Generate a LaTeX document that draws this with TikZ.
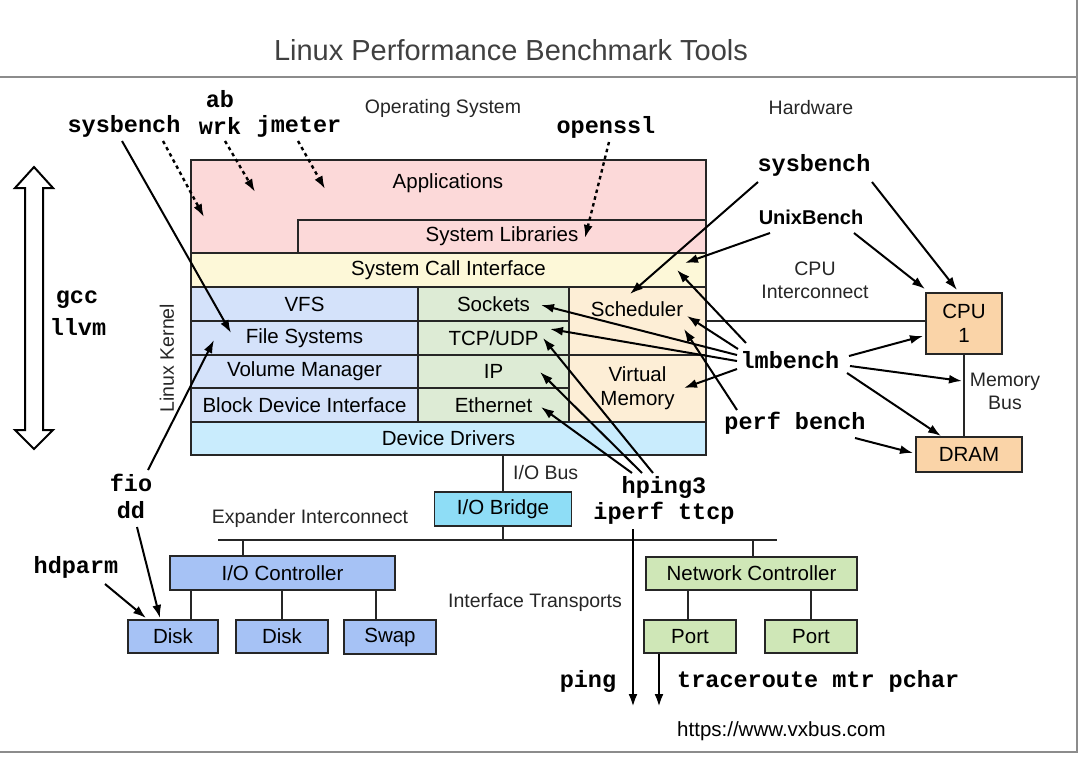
\documentclass[tikz,border=0pt]{standalone}
\usepackage{fontspec}
\setmainfont{Liberation Sans}
\newfontfamily\monofont{Liberation Mono}
\usetikzlibrary{arrows.meta}
\definecolor{cpink}{RGB}{252,217,217}
\definecolor{cyel}{RGB}{253,248,216}
\definecolor{cblue}{RGB}{212,226,250}
\definecolor{cgreen}{RGB}{221,235,213}
\definecolor{corange}{RGB}{253,238,214}
\definecolor{ccyan}{RGB}{201,236,253}
\definecolor{cbridge}{RGB}{142,221,246}
\definecolor{cioc}{RGB}{166,194,245}
\definecolor{cnet}{RGB}{207,231,183}
\definecolor{chw}{RGB}{250,212,168}
\tikzset{
 box/.style={draw=black!85, line width=1.1pt, inner sep=0pt, align=center, text=black, font=\fontsize{20.5}{24}\selectfont},
 lbl/.style={inner sep=0pt, align=center, font=\fontsize{19.5}{23}\selectfont, text=black!85},
 blbl/.style={inner sep=0pt, align=center, font=\fontsize{20.5}{24}\selectfont, text=black},
 tool/.style={inner sep=0pt, font=\monofont\bfseries\fontsize{23.5}{26}\selectfont},
 arr/.style={line width=2pt, -{Latex[length=13pt,width=9pt]}},
 darr/.style={arr, line width=2.4pt, dash pattern=on 3.5pt off 3.5pt},
 link/.style={line width=1.1pt, draw=black!85},
 frame/.style={line width=1.4pt, draw=black!45},
}
\begin{document}
\begin{tikzpicture}[x=1pt,y=-1pt]
\useasboundingbox (0,0) rectangle (1080,756);
% frame
\coordinate (fTL) at (0,77);
\coordinate (fTR) at (1077,77);
\coordinate (fR0) at (1077,0);
\coordinate (fBR) at (1077,752);
\coordinate (fBL) at (0,752);
\draw[frame] (fTL) -- (fTR);
\draw[frame] (fR0) -- (fBR) -- (fBL);
\node[inner sep=0pt, font=\fontsize{29}{32}\selectfont, text=black!75] (title) at (511,50) {Linux Performance Benchmark Tools};

\node[lbl] (oslbl) at (443,108) {Operating System};
\node[lbl] (hwlbl) at (811,108) {Hardware};

% OS stack
\node[box, fill=cpink, minimum width=515pt, minimum height=93pt] (apps) at (448.5,206.5) {};
\node[blbl] (appst) at (448,183) {Applications};
\node[box, fill=cpink, minimum width=408pt, minimum height=33pt] (syslib) at (502,236.5) {System Libraries};
\node[box, fill=cyel, minimum width=515pt, minimum height=34pt] (syscall) at (448.5,270) {System Call Interface};
\node[box, fill=cblue, minimum width=227pt, minimum height=34pt] (vfs) at (304.5,304) {VFS};
\node[box, fill=cblue, minimum width=227pt, minimum height=34pt] (fs) at (304.5,338) {File Systems};
\node[box, fill=cblue, minimum width=227pt, minimum height=33pt] (volm) at (304.5,371.5) {Volume Manager};
\node[box, fill=cblue, minimum width=227pt, minimum height=34pt] (bdi) at (304.5,405) {Block Device Interface};
\node[box, fill=cgreen, minimum width=151pt, minimum height=34pt] (sock) at (493.5,304) {Sockets};
\node[box, fill=cgreen, minimum width=151pt, minimum height=34pt] (tcp) at (493.5,338) {TCP/UDP};
\node[box, fill=cgreen, minimum width=151pt, minimum height=33pt] (ip) at (493.5,371.5) {IP};
\node[box, fill=cgreen, minimum width=151pt, minimum height=34pt] (eth) at (493.5,405) {Ethernet};
\node[box, fill=corange, minimum width=137pt, minimum height=68pt] (sched) at (637.5,321) {};
\node[blbl] (schedt) at (637,309) {Scheduler};
\node[box, fill=corange, minimum width=137pt, minimum height=67pt] (virt) at (637.5,388.5) {Virtual\\Memory};
\node[box, fill=ccyan, minimum width=515pt, minimum height=33pt] (drv) at (448.5,438.5) {Device Drivers};
\node[lbl, rotate=90] (lk) at (167,358) {Linux Kernel};

% hardware
\node[box, fill=chw, minimum width=76pt, minimum height=61pt] (cpu) at (964,323.5) {CPU\\1};
\node[box, fill=chw, minimum width=106pt, minimum height=35pt] (dram) at (969,454.5) {DRAM};
\draw[link] (sched.east) -- (sched.east -| cpu.west);
\draw[link] (cpu.south) -- (cpu.south |- dram.north);
\node[lbl] (cpuic) at (815,280.5) {CPU\\Interconnect};
\node[lbl] (membus) at (1005,391) {Memory\\Bus};

% I/O
\node[box, fill=cbridge, minimum width=137pt, minimum height=34pt] (bridge) at (503,509) {I/O Bridge};
\draw[link] (bridge.north) -- (bridge.north |- drv.south);
\node[lbl, anchor=west] (iobus) at (513,473) {I/O Bus};
\coordinate (exL) at (218,540);
\coordinate (exR) at (777,540);
\draw[link] (exL) -- (exR);
\draw[link] (bridge.south) -- (bridge.south |- exL);
\node[lbl] (expl) at (310,518) {Expander Interconnect};
\node[box, fill=cioc, minimum width=225pt, minimum height=34pt] (ioc) at (282.5,573) {I/O Controller};
\node[box, fill=cioc, minimum width=90pt, minimum height=33pt] (disk1) at (173,636.5) {Disk};
\node[box, fill=cioc, minimum width=92pt, minimum height=33pt] (disk2) at (282,636.5) {Disk};
\node[box, fill=cioc, minimum width=92pt, minimum height=34pt] (swap) at (390,637) {Swap};
\coordinate (iocup) at (243,556);
\draw[link] (iocup) -- (iocup |- exL);
\coordinate (iocd1) at (191,590);
\coordinate (iocd3) at (376,590);
\draw[link] (iocd1) -- (iocd1 |- disk1.north);
\draw[link] (ioc.south -| disk2.north) -- (disk2.north);
\draw[link] (iocd3) -- (iocd3 |- swap.north);
\node[box, fill=cnet, minimum width=211pt, minimum height=33pt] (netc) at (751.5,573.5) {Network Controller};
\node[box, fill=cnet, minimum width=92pt, minimum height=33pt] (port1) at (690,636.5) {Port};
\node[box, fill=cnet, minimum width=92pt, minimum height=33pt] (port2) at (811,636.5) {Port};
\coordinate (netup) at (753,557);
\draw[link] (netup) -- (netup |- exL);
\coordinate (netd1) at (688,590);
\draw[link] (netd1) -- (netd1 |- port1.north);
\draw[link] (netc.south -| port2.north) -- (port2.north);
\node[lbl] (itrans) at (535,602) {Interface Transports};
\node[inner sep=0pt, anchor=west, font=\fontsize{20.5}{24}\selectfont] (url) at (677,731) {https://www.vxbus.com};

% double arrow
\coordinate (da1) at (34,167);
\draw[line width=2pt, fill=white] (da1) -- ++(19,21) -- ++(-10,0) -- ++(0,242) -- ++(10,0) -- ++(-19,19) -- ++(-19,-19) -- ++(10,0) -- ++(0,-242) -- ++(-10,0) -- cycle;

% tools
\node[tool] (ab) at (220,99) {ab};
\node[tool] (sysL) at (124,126) {sysbench};
\node[tool] (wrk) at (220,126) {wrk};
\node[tool] (jm) at (299,126) {jmeter};
\node[tool] (ossl) at (606,127) {openssl};
\node[tool] (sysR) at (814,165) {sysbench};
\node[inner sep=0pt, font=\bfseries\fontsize{20}{23}\selectfont] (unix) at (811,217) {UnixBench};
\node[tool] (lmb) at (790,360) {lmbench};
\node[tool] (perf) at (795,423) {perf bench};
\node[tool] (gcc) at (77,300) {gcc};
\node[tool] (llvm) at (78,327) {llvm};
\node[tool] (fio) at (131,483) {fio};
\node[tool] (dd) at (131,510) {dd};
\node[tool] (hdp) at (76,567) {hdparm};
\node[tool] (hping) at (664,487) {hping3};
\node[tool] (iperf) at (664,513) {iperf ttcp};
\node[tool] (ping) at (588,681) {ping};
\node[tool, anchor=west] (trace) at (677,681) {traceroute mtr pchar};

% arrow end coordinates
\coordinate (s1) at (122,141); \coordinate (e1) at (231,333);
\coordinate (s2) at (163,141); \coordinate (e2) at (204,217);
\coordinate (s3) at (225,141); \coordinate (e3) at (255,192);
\coordinate (s4) at (298,141); \coordinate (e4) at (325,189);
\coordinate (s5) at (609,142); \coordinate (e5) at (585,238);
\coordinate (s6) at (758,182); \coordinate (e6) at (630,294);
\coordinate (s7) at (872,182); \coordinate (e7) at (957,290);
\coordinate (s8) at (770,233); \coordinate (e8) at (685,263);
\coordinate (s9) at (854,233); \coordinate (e9) at (925,289);
\coordinate (s10) at (746,343); \coordinate (e10) at (677,270);
\coordinate (s11) at (738,349); \coordinate (e11) at (687,316);
\coordinate (s12) at (737,355); \coordinate (e12) at (541,305);
\coordinate (s13) at (737,361); \coordinate (e13) at (550,329);
\coordinate (s14) at (737,369); \coordinate (e14) at (684,388);
\coordinate (s15) at (849,356); \coordinate (e15) at (923,336);
\coordinate (s16) at (850,366); \coordinate (e16) at (962,381);
\coordinate (s17) at (847,373); \coordinate (e17) at (941,436);
\coordinate (s18) at (737,410); \coordinate (e18) at (684,329);
\coordinate (s19) at (855,438); \coordinate (e19) at (913,453);
\coordinate (s20) at (632,473); \coordinate (e20) at (541,407);
\coordinate (s21) at (642,473); \coordinate (e21) at (540,372);
\coordinate (s22) at (653,473); \coordinate (e22) at (543,338);
\coordinate (s23) at (148,470); \coordinate (e23) at (214,340);
\coordinate (s24) at (137,527); \coordinate (e24) at (160,618);
\coordinate (s25) at (105,584); \coordinate (e25) at (146,618);
\coordinate (s26) at (633,529); \coordinate (e26) at (633,707);
\coordinate (s27) at (659,654); \coordinate (e27) at (659,707);

\draw[arr] (s1) -- (e1);
\draw[darr] (s2) -- (e2);
\draw[darr] (s3) -- (e3);
\draw[darr] (s4) -- (e4);
\draw[darr] (s5) -- (e5);
\foreach \i in {6,...,25} { \draw[arr] (s\i) -- (e\i); }
\draw[arr, line width=2.6pt] (s26) -- (e26);
\draw[arr, line width=2.6pt] (s27) -- (e27);
\end{tikzpicture}
\end{document}
